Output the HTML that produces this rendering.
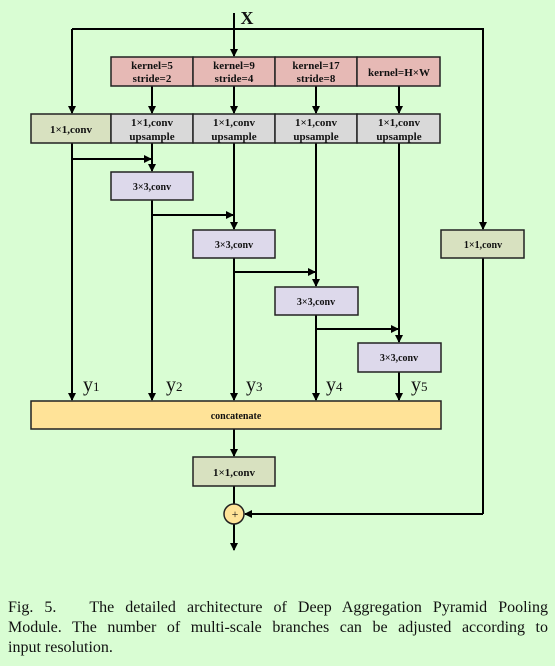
<!DOCTYPE html><html><head><style>body{margin:0;background:#d9fdd3;width:555px;height:666px;overflow:hidden}svg{position:absolute;left:0;top:0}
.c{position:absolute;left:8px;top:598px;width:540px;font:16px "Liberation Serif",serif;color:#111;line-height:20px}
.c div{text-align:justify;text-align-last:justify;white-space:nowrap}.c div.l{text-align-last:left}</style></head><body>
<svg width="555" height="666" font-family="Liberation Serif,serif" font-weight="bold" font-size="11">
<defs><marker id="a" markerWidth="8" markerHeight="8" refX="7" refY="4" orient="auto" markerUnits="userSpaceOnUse"><path d="M0,0L8,4L0,8z" fill="#000"/></marker></defs>
<g stroke="#000" stroke-width="2" fill="none">
<line x1="234" y1="13" x2="234" y2="56" marker-end="url(#a)"/>
<polyline points="72,29 483,29 483,229" marker-end="url(#a)"/>
<line x1="72" y1="29" x2="72" y2="113" marker-end="url(#a)"/>
<line x1="152" y1="86" x2="152" y2="113" marker-end="url(#a)"/>
<line x1="234" y1="86" x2="234" y2="113" marker-end="url(#a)"/>
<line x1="316" y1="86" x2="316" y2="113" marker-end="url(#a)"/>
<line x1="399" y1="86" x2="399" y2="113" marker-end="url(#a)"/>
<line x1="72" y1="143" x2="72" y2="400" marker-end="url(#a)"/>
<line x1="152" y1="143" x2="152" y2="171" marker-end="url(#a)"/>
<line x1="72" y1="159" x2="151" y2="159" marker-end="url(#a)"/>
<line x1="152" y1="200" x2="152" y2="400" marker-end="url(#a)"/>
<line x1="152" y1="215" x2="233" y2="215" marker-end="url(#a)"/>
<line x1="234" y1="143" x2="234" y2="229" marker-end="url(#a)"/>
<line x1="234" y1="258" x2="234" y2="400" marker-end="url(#a)"/>
<line x1="234" y1="272" x2="315" y2="272" marker-end="url(#a)"/>
<line x1="316" y1="143" x2="316" y2="286" marker-end="url(#a)"/>
<line x1="316" y1="315" x2="316" y2="400" marker-end="url(#a)"/>
<line x1="316" y1="329" x2="398" y2="329" marker-end="url(#a)"/>
<line x1="399" y1="143" x2="399" y2="342" marker-end="url(#a)"/>
<line x1="399" y1="372" x2="399" y2="400" marker-end="url(#a)"/>
<line x1="483" y1="258" x2="483" y2="514"/>
<line x1="483" y1="514" x2="245" y2="514" marker-end="url(#a)"/>
<line x1="234" y1="429" x2="234" y2="456" marker-end="url(#a)"/>
<line x1="234" y1="486" x2="234" y2="504"/>
<line x1="234" y1="524" x2="234" y2="550" marker-end="url(#a)"/>
</g>
<g stroke="#222" stroke-width="1.5">
<rect x="111" y="57" width="82" height="29" fill="#e6b9b5"/><rect x="193" y="57" width="82" height="29" fill="#e6b9b5"/><rect x="275" y="57" width="82" height="29" fill="#e6b9b5"/><rect x="357" y="57" width="83" height="29" fill="#e6b9b5"/>
<rect x="31" y="114" width="80" height="29" fill="#d8e1c0"/>
<rect x="111" y="114" width="82" height="29" fill="#d9d9d9"/><rect x="193" y="114" width="82" height="29" fill="#d9d9d9"/><rect x="275" y="114" width="82" height="29" fill="#d9d9d9"/><rect x="357" y="114" width="83" height="29" fill="#d9d9d9"/>
<rect x="111" y="172" width="82" height="28" fill="#ddd9eb"/><rect x="193" y="230" width="82" height="28" fill="#ddd9eb"/><rect x="275" y="287" width="83" height="28" fill="#ddd9eb"/><rect x="358" y="343" width="83" height="29" fill="#ddd9eb"/>
<rect x="441" y="230" width="83" height="28" fill="#d8e1c0"/>
<rect x="31" y="401" width="410" height="28" fill="#ffe398"/>
<rect x="193" y="457" width="82" height="29" fill="#d8e1c0"/>
<circle cx="234" cy="514" r="10" fill="#ffe398"/>
</g>
<g text-anchor="middle" fill="#111">
<text x="152" y="69">kernel=5</text><text x="152" y="82">stride=2</text>
<text x="234" y="69">kernel=9</text><text x="234" y="82">stride=4</text>
<text x="316" y="69">kernel=17</text><text x="316" y="82">stride=8</text>
<text x="399" y="76">kernel=H×W</text>
<text x="71" y="133">1×1,conv</text>
<text x="152" y="126">1×1,conv</text><text x="152" y="140">upsample</text>
<text x="234" y="126">1×1,conv</text><text x="234" y="140">upsample</text>
<text x="316" y="126">1×1,conv</text><text x="316" y="140">upsample</text>
<text x="399" y="126">1×1,conv</text><text x="399" y="140">upsample</text>
<text x="152" y="190" font-size="10">3×3,conv</text><text x="234" y="248" font-size="10">3×3,conv</text><text x="316" y="305" font-size="10">3×3,conv</text><text x="399" y="361" font-size="10">3×3,conv</text>
<text x="483" y="248" font-size="10">1×1,conv</text>
<text x="236" y="419" font-size="10">concatenate</text>
<text x="234" y="476">1×1,conv</text>
<text x="235" y="518" font-weight="normal" font-size="12">+</text>
<text x="247" y="24" font-size="18">X</text>
</g>
<g font-weight="normal" font-size="20" fill="#111">
<text x="83" y="391">y<tspan font-size="13">1</tspan></text>
<text x="166" y="391">y<tspan font-size="13">2</tspan></text>
<text x="246" y="391">y<tspan font-size="13">3</tspan></text>
<text x="326" y="391">y<tspan font-size="13">4</tspan></text>
<text x="411" y="391">y<tspan font-size="13">5</tspan></text>
</g>
</svg>
<div class="c"><div>Fig. 5.&nbsp;&nbsp; The detailed architecture of Deep Aggregation Pyramid Pooling</div><div>Module. The number of multi-scale branches can be adjusted according to</div><div class="l">input resolution.</div></div>
</body></html>
